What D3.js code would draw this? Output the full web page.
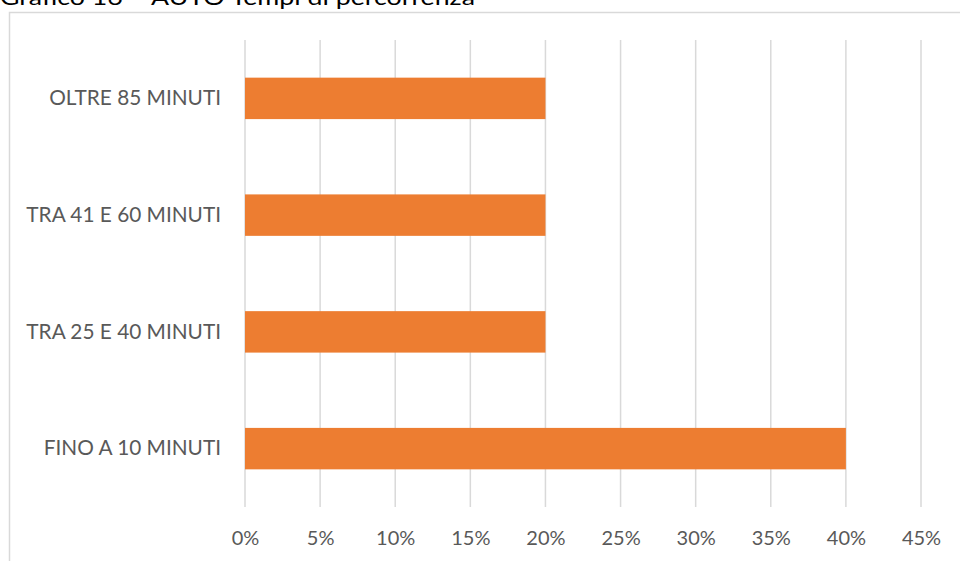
<!DOCTYPE html>
<html>
<head>
<meta charset="utf-8">
<script src="https://cdn.jsdelivr.net/npm/d3@7"></script>
<style>
  html, body { margin: 0; padding: 0; background: #fff; }
  svg { display: block; }
</style>
</head>
<body>
<svg id="chart" width="960" height="561"></svg>
<script>
// Travel time categories (bottom to top) and share of respondents
const categories = ["FINO A 10 MINUTI", "TRA 25 E 40 MINUTI", "TRA 41 E 60 MINUTI", "OLTRE 85 MINUTI"];
const values = [0.40, 0.20, 0.20, 0.20];
const xTicks = [0, 0.05, 0.10, 0.15, 0.20, 0.25, 0.30, 0.35, 0.40, 0.45];
const title = "Grafico 16 – AUTO Tempi di percorrenza";

const svg = d3.select("#chart");
const W = 960, H = 561;
const margin = { top: 40, right: 39, bottom: 54, left: 245 };
const font = "Lato, 'Open Sans', sans-serif";

// Title (partly above the top edge)
svg.append("text")
  .attr("x", 0).attr("y", 5)
  .attr("font-family", font)
  .attr("font-size", 22)
  .attr("fill", "#000")
  .attr("textLength", 475)
  .attr("lengthAdjust", "spacingAndGlyphs")
  .text(title);

// Chart frame
svg.append("rect")
  .attr("x", 9.5).attr("y", 12.5)
  .attr("width", W).attr("height", H)
  .attr("fill", "none")
  .attr("stroke", "#d9d9d9")
  .attr("stroke-width", 1.5);

const x = d3.scaleLinear().domain([0, 0.45]).range([margin.left, W - margin.right]);
const y = d3.scaleBand()
  .domain(categories.slice().reverse())
  .range([margin.top, H - margin.bottom])
  .paddingInner(0.645)
  .paddingOuter(0.3225);

// Vertical gridlines
svg.append("g")
  .selectAll("line")
  .data(xTicks)
  .join("line")
  .attr("x1", d => x(d)).attr("x2", d => x(d))
  .attr("y1", margin.top).attr("y2", H - margin.bottom)
  .attr("stroke", "#d9d9d9")
  .attr("stroke-width", 1.5);

// Bars
svg.append("g")
  .selectAll("rect")
  .data(categories.map((c, i) => ({ c, v: values[i] })))
  .join("rect")
  .attr("x", x(0))
  .attr("y", d => y(d.c))
  .attr("width", d => x(d.v) - x(0))
  .attr("height", y.bandwidth())
  .attr("fill", "#ed7d31");

// X axis labels
const xAxis = d3.axisBottom(x)
  .tickValues(xTicks)
  .tickFormat(d3.format(".0%"))
  .tickSize(0)
  .tickPadding(0);
const gx = svg.append("g")
  .attr("transform", `translate(0,${H - margin.bottom + 24})`)
  .call(xAxis);
gx.select(".domain").remove();
gx.selectAll("text")
  .attr("font-family", font)
  .attr("font-size", 20)
  .attr("fill", "#595959");

// Y axis labels
const yAxis = d3.axisLeft(y).tickSize(0).tickPadding(24);
const gy = svg.append("g")
  .attr("transform", `translate(${margin.left},0)`)
  .call(yAxis);
gy.select(".domain").remove();
gy.selectAll("text")
  .attr("font-family", font)
  .attr("font-size", 20.8)
  .attr("fill", "#595959");
</script>
</body>
</html>
